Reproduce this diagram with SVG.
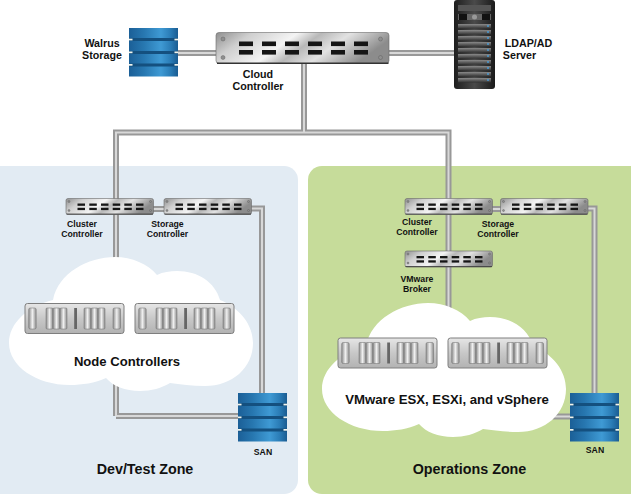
<svg xmlns="http://www.w3.org/2000/svg" xmlns:xlink="http://www.w3.org/1999/xlink" width="631" height="498" viewBox="0 0 631 498">
<style>
text{font-family:"Liberation Sans",Arial,sans-serif;font-weight:700;fill:#111;text-anchor:middle}
.l{font-size:10.700px}.s{font-size:8.700px}.z{font-size:14.300px}.c{font-size:13.100px}.v{font-size:13.200px}
.wo{fill:none;stroke:#989898;stroke-width:6}
.wi{fill:none;stroke:#d8d8d8;stroke-width:2}
.slot{fill:#151515}
.sc{fill:#8f8f8f;stroke:#555;stroke-width:.4}
.cl{fill:#fff}
.nt{fill:#f2f5ee}
</style>
<defs>
<linearGradient id="steel" x1="0" y1="0" x2="1" y2="0.250">
<stop offset="0" stop-color="#8f8f8f"/><stop offset=".2" stop-color="#cfcfcf"/><stop offset=".45" stop-color="#f4f4f4"/><stop offset=".58" stop-color="#b8b8b8"/><stop offset=".74" stop-color="#e2e2e2"/><stop offset="1" stop-color="#8c8c8c"/>
</linearGradient>
<linearGradient id="disk" x1="0" y1="0" x2="1" y2="0">
<stop offset="0" stop-color="#1b5f97"/><stop offset=".3" stop-color="#2777b0"/><stop offset=".65" stop-color="#3f9ad4"/><stop offset=".85" stop-color="#2a7cb6"/><stop offset="1" stop-color="#1a5c92"/>
</linearGradient>
<linearGradient id="blade" x1="0" y1="0" x2="0" y2="1">
<stop offset="0" stop-color="#e6e6e6"/><stop offset=".5" stop-color="#c8c8c8"/><stop offset="1" stop-color="#b2b2b2"/>
</linearGradient>
<linearGradient id="bay" x1="0" y1="0" x2="1" y2="0">
<stop offset="0" stop-color="#8e8e8e"/><stop offset=".5" stop-color="#efefef"/><stop offset="1" stop-color="#8e8e8e"/>
</linearGradient>
<linearGradient id="tower" x1="0" y1="0" x2="1" y2="0">
<stop offset="0" stop-color="#1e1e1e"/><stop offset=".5" stop-color="#4a4a4a"/><stop offset="1" stop-color="#1a1a1a"/>
</linearGradient>
<linearGradient id="row" x1="0" y1="0" x2="0" y2="1">
<stop offset="0" stop-color="#8a8a8a"/><stop offset="1" stop-color="#333"/>
</linearGradient>
<g id="san">
<rect x="0" y="0" width="49" height="48.500" fill="url(#disk)"/>
<rect x="0" y="10" width="49" height="3" fill="#14507f"/>
<rect x="0" y="23" width="49" height="3" fill="#14507f"/>
<rect x="0" y="35.500" width="49" height="3" fill="#14507f"/>
<rect class="nt" x="0" y="10.700" width="3.500" height="1.700"/><rect class="nt" x="45.500" y="10.700" width="3.500" height="1.700"/>
<rect class="nt" x="0" y="23.500" width="3.500" height="1.700"/><rect class="nt" x="45.500" y="23.500" width="3.500" height="1.700"/>
<rect class="nt" x="0" y="36" width="3.500" height="1.700"/><rect class="nt" x="45.500" y="36" width="3.500" height="1.700"/>
</g>
<g id="sw">
<rect x="0" y="0" width="87.500" height="16" rx="2" fill="url(#steel)" stroke="#6a6a6a" stroke-width=".6"/>
<path d="M.5 15.600H87" stroke="#444" stroke-width="1"/>
<g class="slot">
<rect x="11.500" y="5" width="7.500" height="2.300"/><rect x="11.500" y="9.300" width="7.500" height="2.300"/>
<rect x="23.300" y="5" width="7.500" height="2.300"/><rect x="23.300" y="9.300" width="7.500" height="2.300"/>
<rect x="35" y="5" width="7.500" height="2.300"/><rect x="35" y="9.300" width="7.500" height="2.300"/>
<rect x="46.700" y="5" width="7.500" height="2.300"/><rect x="46.700" y="9.300" width="7.500" height="2.300"/>
<rect x="58.300" y="5" width="7.500" height="2.300"/><rect x="58.300" y="9.300" width="7.500" height="2.300"/>
<rect x="70" y="5" width="7.500" height="2.300"/><rect x="70" y="9.300" width="7.500" height="2.300"/>
</g>
<circle class="sc" cx="3" cy="3" r="1"/><circle class="sc" cx="3" cy="12" r="1"/><circle class="sc" cx="84.500" cy="3" r="1"/><circle class="sc" cx="84.500" cy="12" r="1"/>
</g>
<g id="blades">
<rect x="0" y="0" width="99" height="30" rx="2.500" fill="url(#blade)" stroke="#7e7e7e" stroke-width="1"/>
<rect x="3.700" y="4.500" width="7.500" height="21" rx="1.500" fill="url(#bay)" stroke="#6e6e6e" stroke-width=".5"/>
<rect x="21" y="4.500" width="7" height="21" rx="1" fill="url(#bay)" stroke="#6e6e6e" stroke-width=".5"/>
<rect x="28" y="4.500" width="7" height="21" rx="1" fill="url(#bay)" stroke="#6e6e6e" stroke-width=".5"/>
<rect x="35" y="4.500" width="7" height="21" rx="1" fill="url(#bay)" stroke="#6e6e6e" stroke-width=".5"/>
<rect x="49.200" y="4.500" width="2.800" height="21" fill="#666"/>
<rect x="59" y="4.500" width="7" height="21" rx="1" fill="url(#bay)" stroke="#6e6e6e" stroke-width=".5"/>
<rect x="66" y="4.500" width="7" height="21" rx="1" fill="url(#bay)" stroke="#6e6e6e" stroke-width=".5"/>
<rect x="73" y="4.500" width="7" height="21" rx="1" fill="url(#bay)" stroke="#6e6e6e" stroke-width=".5"/>
<rect x="88" y="4.500" width="7.500" height="21" rx="1.500" fill="url(#bay)" stroke="#6e6e6e" stroke-width=".5"/>
</g>
<path id="cloud" d="M53 300C58 273 88 257 115 257C132 257 148 264 157 275C163 272 170 271 177 271C198 271 215 282 220 300C240 308 253 325 253 343C253 368 232 386 205 386C192 386 180 384 170 383C162 388 151 391 140 391C125 391 113 386 106 378C95 383 82 385 70 385C36 385 9 366 9 343C9 323 28 306 53 300Z"/>
</defs>
<rect width="631" height="498" fill="#fff"/>
<rect id="dev-zone" x="-14" y="166" width="312" height="328" rx="14" fill="#e2ebf3"/>
<rect id="ops-zone" x="308" y="166" width="337" height="328" rx="14" fill="#c6dc9a"/>
<g id="connectors">
<path class="wo" d="M175 53H456M304 60V132.500M116 416V132.500H448.500V330M150 209H167M248 208.500H262V395M116 416H240M490 209H503M585 208.500H594.500V395M540 416.500H572"/>
<path class="wi" d="M175 53H456M304 60V132.500M116 416V132.500H448.500V330M150 209H167M248 208.500H262V395M116 416H240M490 209H503M585 208.500H594.500V395M540 416.500H572"/>
</g>
<g id="walrus-storage"><use href="#san" x="129" y="28"/>
<text class="l" x="102" y="47">Walrus</text><text class="l" x="102" y="59">Storage</text></g>
<g id="cloud-controller">
<rect x="216" y="32.500" width="173" height="31" rx="3" fill="url(#steel)" stroke="#6a6a6a" stroke-width=".6"/>
<path d="M217 63.300H388.500" stroke="#333" stroke-width="1.500"/>
<g class="slot">
<rect x="239" y="41.500" width="14" height="4.600"/><rect x="239" y="50" width="14" height="4.600"/>
<rect x="262" y="41.500" width="14" height="4.600"/><rect x="262" y="50" width="14" height="4.600"/>
<rect x="285" y="41.500" width="14" height="4.600"/><rect x="285" y="50" width="14" height="4.600"/>
<rect x="308" y="41.500" width="14" height="4.600"/><rect x="308" y="50" width="14" height="4.600"/>
<rect x="331" y="41.500" width="14" height="4.600"/><rect x="331" y="50" width="14" height="4.600"/>
<rect x="354" y="41.500" width="14" height="4.600"/><rect x="354" y="50" width="14" height="4.600"/>
</g>
<circle class="sc" cx="223" cy="39" r="2"/><circle class="sc" cx="223" cy="57.500" r="2"/><circle class="sc" cx="380.500" cy="39" r="2"/><circle class="sc" cx="380.500" cy="57.500" r="2"/>
<text class="l" x="258" y="78">Cloud</text><text class="l" x="258" y="90">Controller</text></g>
<g id="ldap-server">
<rect x="454" y="0" width="41" height="89" rx="3" fill="url(#tower)"/>
<rect x="458" y="5" width="33" height="6" fill="#555"/>
<rect x="458" y="14" width="33" height="6" fill="#666"/><rect x="459" y="14" width="8" height="6" fill="#111"/><rect x="482" y="14" width="8" height="6" fill="#111"/><circle cx="474.500" cy="17" r="2.500" fill="#999"/>
<g fill="url(#row)"><rect x="458" y="24" width="33" height="4.500"/><rect x="458" y="30" width="33" height="4.500"/><rect x="458" y="36" width="33" height="4.500"/><rect x="458" y="42" width="33" height="4.500"/><rect x="458" y="48" width="33" height="4.500"/><rect x="458" y="54" width="33" height="4.500"/><rect x="458" y="60" width="33" height="4.500"/><rect x="458" y="66" width="33" height="4.500"/><rect x="458" y="72" width="33" height="4.500"/><rect x="458" y="78" width="33" height="4.500"/></g>
<path d="M488 25V81" stroke="#4a9bd4" stroke-width="1.500" stroke-dasharray="2 4"/>
<text class="l" x="528.500" y="47">LDAP/AD</text><text class="l" x="519.500" y="59">Server</text></g>
<g id="dev-cluster-controller"><use href="#sw" x="66" y="198.500"/><text class="s" x="82" y="227">Cluster</text><text class="s" x="82" y="237">Controller</text></g>
<g id="dev-storage-controller"><use href="#sw" x="164" y="198.500"/><text class="s" x="167.500" y="227">Storage</text><text class="s" x="167.500" y="237">Controller</text></g>
<g id="dev-cloud"><use href="#cloud" class="cl"/>
<text class="c" x="127" y="366">Node Controllers</text></g>
<g id="dev-node-1"><use href="#blades" x="25" y="303.500"/></g>
<g id="dev-node-2"><use href="#blades" x="135" y="303.500"/></g>
<g id="dev-san"><use href="#san" x="238" y="393"/><text class="s" x="263" y="455">SAN</text></g>
<text class="z" x="145" y="474">Dev/Test Zone</text>
<g id="ops-cluster-controller"><use href="#sw" x="405" y="198.500"/><text class="s" x="417" y="225">Cluster</text><text class="s" x="417" y="235">Controller</text></g>
<g id="ops-storage-controller"><use href="#sw" x="500.500" y="198.500"/><text class="s" x="498" y="227">Storage</text><text class="s" x="498" y="237">Controller</text></g>
<g id="vmware-broker"><use href="#sw" x="405" y="251"/><text class="s" x="417" y="282">VMware</text><text class="s" x="417" y="292">Broker</text></g>
<g id="ops-cloud"><use href="#cloud" class="cl" x="313" y="46"/>
<text class="v" x="447" y="404">VMware ESX, ESXi, and vSphere</text></g>
<g id="ops-node-1"><use href="#blades" x="338" y="338"/></g>
<g id="ops-node-2"><use href="#blades" x="448" y="338"/></g>
<g id="ops-san"><use href="#san" x="570" y="393"/><text class="s" x="595" y="453">SAN</text></g>
<text class="z" x="469.500" y="474">Operations Zone</text>
</svg>
